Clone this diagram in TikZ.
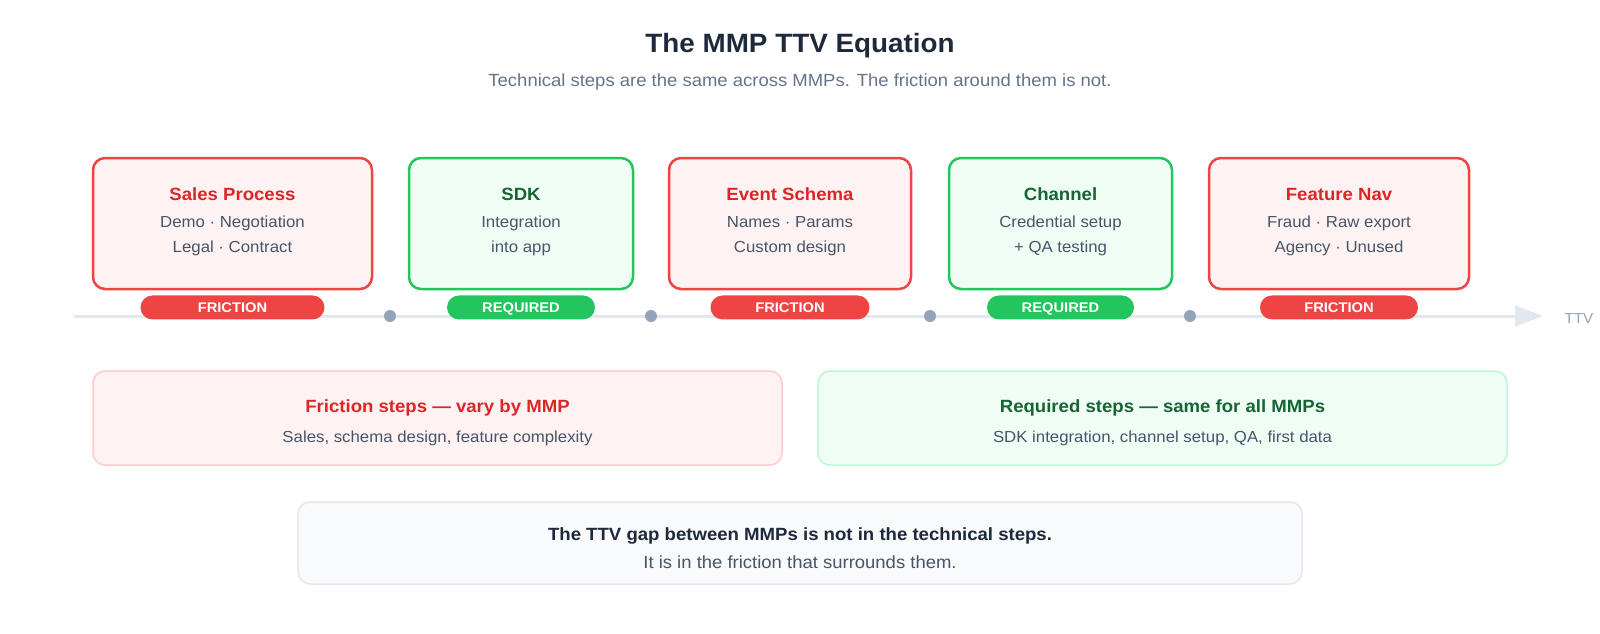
\documentclass[tikz,border=0pt]{standalone}
\usepackage{xcolor}
\usepackage{fontspec}
\setmainfont{Liberation Sans}[FakeStretch=1.05]
\usepackage{tikz}
\usetikzlibrary{positioning,arrows.meta}

\definecolor{fricline}{HTML}{EF4444}
\definecolor{fricfill}{HTML}{FEF2F2}
\definecolor{frictext}{HTML}{DC2626}
\definecolor{fricsoft}{HTML}{FECACA}
\definecolor{reqline}{HTML}{22C55E}
\definecolor{reqfill}{HTML}{F0FDF4}
\definecolor{reqtext}{HTML}{166534}
\definecolor{reqsoft}{HTML}{BBF7D0}
\definecolor{bodytext}{HTML}{475569}
\definecolor{headtext}{HTML}{1E293B}
\definecolor{subtext}{HTML}{64748B}
\definecolor{axisline}{HTML}{E2E8F0}
\definecolor{dotgray}{HTML}{94A3B8}
\definecolor{notefill}{HTML}{F8FAFC}

\tikzset{
  fricbox/.style={draw=fricline, fill=fricfill, line width=2.5pt, rounded corners=12pt, inner sep=0pt, minimum height=131pt},
  reqbox/.style={draw=reqline, fill=reqfill, line width=2.5pt, rounded corners=12pt, inner sep=0pt, minimum height=131pt},
  boxtitle/.style={anchor=base, font=\fontsize{17.7}{21}\selectfont\bfseries},
  boxline/.style={anchor=base, text=bodytext, font=\fontsize{16}{19}\selectfont},
  fricpill/.style={fill=fricline, rounded corners=12pt, minimum height=24pt, inner sep=0pt, text height=10pt, text depth=0pt, text=white, font=\fontsize{14}{16}\selectfont\bfseries},
  reqpill/.style={fill=reqline, rounded corners=12pt, minimum height=24pt, inner sep=0pt, text height=10pt, text depth=0pt, text=white, font=\fontsize{14}{16}\selectfont\bfseries},
  tickdot/.style={circle, fill=dotgray, minimum size=12pt, inner sep=0pt},
  notehead/.style={anchor=base, font=\fontsize{17.7}{21}\selectfont\bfseries},
  notebody/.style={anchor=base, text=bodytext, font=\fontsize{16}{19}\selectfont}
}

\begin{document}
\begin{tikzpicture}[x=1pt, y=-1pt]
    \useasboundingbox (0,0) rectangle (1600,633);

    % Heading
    \node[anchor=base, text=headtext, font=\fontsize{26.5}{30}\selectfont\bfseries] (title) at (800,52) {The MMP TTV Equation};
    \node[anchor=base, text=subtext, font=\fontsize{17.6}{20}\selectfont] (subtitle) at (800,86) {Technical steps are the same across MMPs. The friction around them is not.};

    % Timeline
    \coordinate (tstart) at (74,316);
    \coordinate (tend) at (1543,316);
    \draw[axisline, line width=3pt, -{Triangle[length=28pt, width=21pt]}] (tstart) -- (tend);
    \node[anchor=west, text=dotgray, font=\fontsize{14.5}{16}\selectfont] (ttv) at (1561,319) {TTV};
    \node[tickdot] (dot1) at (390,316) {};
    \node[tickdot] (dot2) at (651,316) {};
    \node[tickdot] (dot3) at (930,316) {};
    \node[tickdot] (dot4) at (1190,316) {};

    % Steps
    \node[fricbox, minimum width=279pt] (sales) at (232.5,223.5) {};
    \node[boxtitle, text=frictext] (salesT) at (232.5,200) {Sales Process};
    \node[boxline] (salesA) at (232.5,227) {Demo · Negotiation};
    \node[boxline] (salesB) at (232.5,252) {Legal · Contract};
    \node[fricpill, minimum width=184pt, below=5pt of sales] (salesP) {FRICTION};

    \node[reqbox, minimum width=224pt] (sdk) at (521,223.5) {};
    \node[boxtitle, text=reqtext] (sdkT) at (521,200) {SDK};
    \node[boxline] (sdkA) at (521,227) {Integration};
    \node[boxline] (sdkB) at (521,252) {into app};
    \node[reqpill, minimum width=148pt, below=5pt of sdk] (sdkP) {REQUIRED};

    \node[fricbox, minimum width=242pt] (schema) at (790,223.5) {};
    \node[boxtitle, text=frictext] (schemaT) at (790,200) {Event Schema};
    \node[boxline] (schemaA) at (790,227) {Names · Params};
    \node[boxline] (schemaB) at (790,252) {Custom design};
    \node[fricpill, minimum width=159pt, below=5pt of schema] (schemaP) {FRICTION};

    \node[reqbox, minimum width=223pt] (channel) at (1060.5,223.5) {};
    \node[boxtitle, text=reqtext] (channelT) at (1060.5,200) {Channel};
    \node[boxline] (channelA) at (1060.5,227) {Credential setup};
    \node[boxline] (channelB) at (1060.5,252) {+ QA testing};
    \node[reqpill, minimum width=147pt, below=5pt of channel] (channelP) {REQUIRED};

    \node[fricbox, minimum width=260pt] (feature) at (1339,223.5) {};
    \node[boxtitle, text=frictext] (featureT) at (1339,200) {Feature Nav};
    \node[boxline] (featureA) at (1339,227) {Fraud · Raw export};
    \node[boxline] (featureB) at (1339,252) {Agency · Unused};
    \node[fricpill, minimum width=158pt, below=5pt of feature] (featureP) {FRICTION};

    % Legend
    \node[draw=fricsoft, fill=fricfill, line width=1.5pt, rounded corners=12pt, minimum width=689pt, minimum height=94pt] (fricnote) at (437.5,418) {};
    \node[notehead, text=frictext] (fricnoteT) at (437.5,412) {Friction steps — vary by MMP};
    \node[notebody] (fricnoteB) at (437.5,442) {Sales, schema design, feature complexity};

    \node[draw=reqsoft, fill=reqfill, line width=1.5pt, rounded corners=12pt, minimum width=689pt, minimum height=94pt] (reqnote) at (1162.5,418) {};
    \node[notehead, text=reqtext] (reqnoteT) at (1162.5,412) {Required steps — same for all MMPs};
    \node[notebody] (reqnoteB) at (1162.5,442) {SDK integration, channel setup, QA, first data};

    % Takeaway
    \node[draw=axisline, fill=notefill, line width=1.5pt, rounded corners=12pt, minimum width=1004pt, minimum height=82pt] (gap) at (800,543) {};
    \node[notehead, text=headtext] (gapT) at (800,540) {The TTV gap between MMPs is not in the technical steps.};
    \node[notebody, font=\fontsize{17.6}{20}\selectfont] (gapB) at (800,568) {It is in the friction that surrounds them.};
\end{tikzpicture}
\end{document}
